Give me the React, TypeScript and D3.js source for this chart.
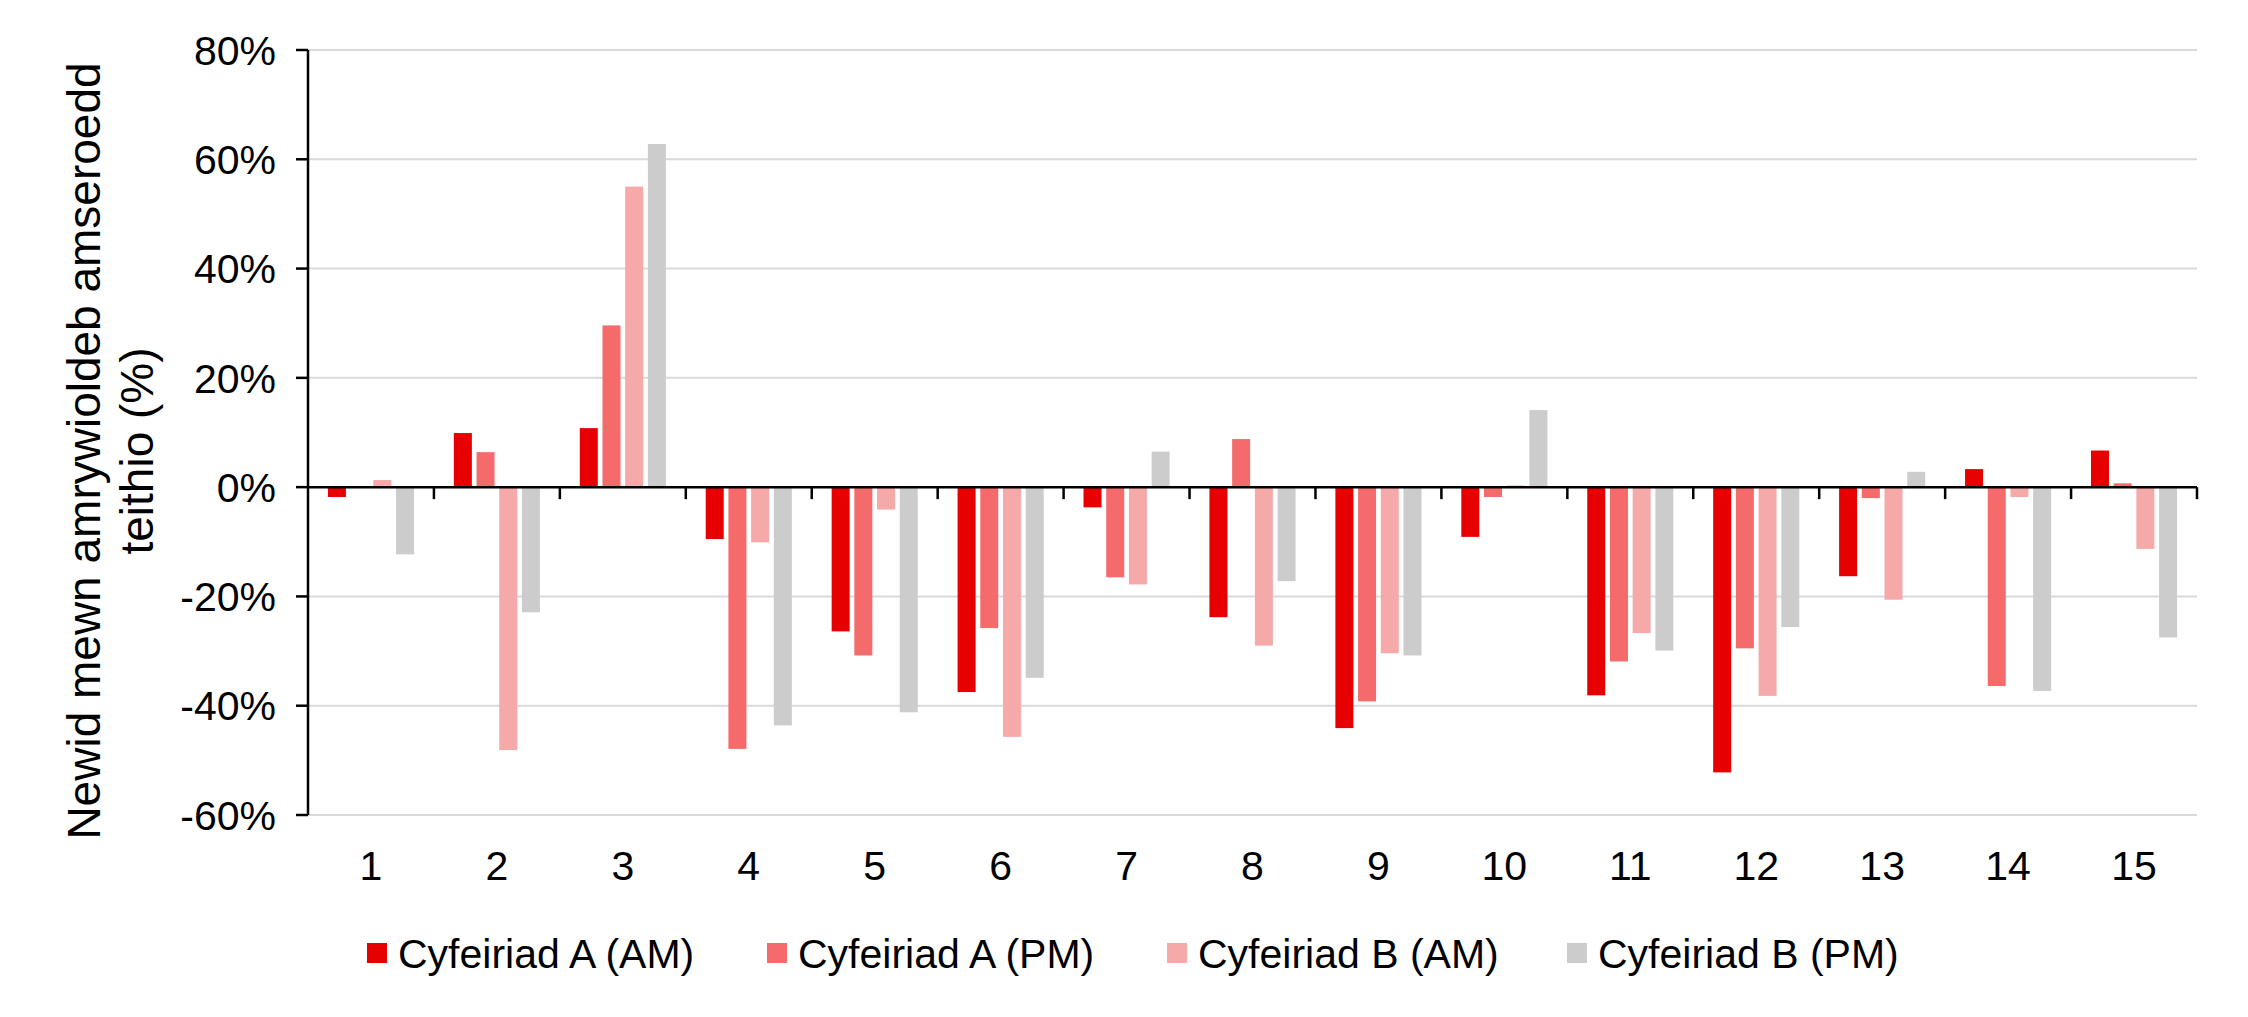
import React, { useEffect, useRef } from 'react';
import * as d3 from 'd3';

const categories = ['1', '2', '3', '4', '5', '6', '7', '8', '9', '10', '11', '12', '13', '14', '15'];
const seriesNames = ['Cyfeiriad A (AM)', 'Cyfeiriad A (PM)', 'Cyfeiriad B (AM)', 'Cyfeiriad B (PM)'];
const seriesColors = ['#e60000', '#f56a6a', '#f5a9a9', '#cccccc'];

const dirA_AM = [-1.8, 9.9, 10.8, -9.5, -26.4, -37.5, -3.7, -23.8, -44.1, -9.1, -38.1, -52.2, -16.3, 3.3, 6.7];
const dirA_PM = [0, 6.4, 29.6, -47.9, -30.8, -25.8, -16.5, 8.8, -39.2, -1.8, -31.9, -29.5, -2.0, -36.4, 0.7];
const dirB_AM = [1.3, -48.1, 55.0, -10.1, -4.1, -45.7, -17.8, -29.0, -30.4, 0.3, -26.7, -38.2, -20.6, -1.8, -11.3];
const dirB_PM = [-12.3, -22.9, 62.8, -43.6, -41.2, -34.9, 6.5, -17.2, -30.8, 14.1, -29.9, -25.6, 2.8, -37.3, -27.5];

const yTicks = [-60, -40, -20, 0, 20, 40, 60, 80];
const yTitleLines = ['Newid mewn amrywioldeb amseroedd', 'teithio (%)'];

const W = 2248;
const H = 1017;
const FONT = '"Liberation Sans", Arial, sans-serif';

const App: React.FC = () => {
  const svgRef = useRef<SVGSVGElement>(null);

  useEffect(() => {
    document.body.style.margin = '0';
    if (!svgRef.current) return;
    const svg = d3.select(svgRef.current);
    svg.selectAll('*').remove();

    const left = 308, right = 2197, top = 50, bottom = 815;
    const series = [dirA_AM, dirA_PM, dirB_AM, dirB_PM];

    const x0 = d3.scaleBand().domain(categories).range([left, right]).paddingInner(0).paddingOuter(0);
    const x1 = d3.scaleBand<number>().domain([0, 1, 2, 3]).range([0, x0.bandwidth()])
      .paddingInner(0.207).paddingOuter(0.877);
    const y = d3.scaleLinear().domain([-60, 80]).range([bottom, top]);

    // gridlines
    svg.append('g').selectAll('line')
      .data(yTicks.filter(t => t !== 0))
      .enter().append('line')
      .attr('x1', left).attr('x2', right)
      .attr('y1', d => y(d)).attr('y2', d => y(d))
      .attr('stroke', '#d9d9d9').attr('stroke-width', 2);

    // bars
    series.forEach((vals, si) => {
      svg.append('g').selectAll('rect')
        .data(vals)
        .enter().append('rect')
        .attr('x', (_, i) => (x0(categories[i]) as number) + (x1(si) as number))
        .attr('width', x1.bandwidth())
        .attr('y', d => y(Math.max(0, d)))
        .attr('height', d => Math.abs(y(d) - y(0)))
        .attr('fill', seriesColors[si]);
    });

    // zero axis with category boundary ticks
    svg.append('line')
      .attr('x1', left).attr('x2', right)
      .attr('y1', y(0)).attr('y2', y(0))
      .attr('stroke', '#000').attr('stroke-width', 2.5);

    const bounds = categories.slice(1).map(c => x0(c) as number).concat([right]);
    svg.append('g').selectAll('line')
      .data(bounds)
      .enter().append('line')
      .attr('x1', d => d).attr('x2', d => d)
      .attr('y1', y(0)).attr('y2', y(0) + 12)
      .attr('stroke', '#000').attr('stroke-width', 2.5);

    // y axis
    svg.append('line')
      .attr('x1', left).attr('x2', left)
      .attr('y1', top).attr('y2', bottom)
      .attr('stroke', '#000').attr('stroke-width', 2.5);

    const yAxisG = svg.append('g');
    yAxisG.selectAll('line')
      .data(yTicks)
      .enter().append('line')
      .attr('x1', left - 12).attr('x2', left)
      .attr('y1', d => y(d)).attr('y2', d => y(d))
      .attr('stroke', '#000').attr('stroke-width', 2.5);
    yAxisG.selectAll('text')
      .data(yTicks)
      .enter().append('text')
      .attr('x', left - 32)
      .attr('y', d => y(d))
      .attr('dy', '0.36em')
      .attr('text-anchor', 'end')
      .attr('font-family', FONT)
      .attr('font-size', 41)
      .attr('fill', '#000')
      .text(d => `${d}%`);

    // category labels
    svg.append('g').selectAll('text')
      .data(categories)
      .enter().append('text')
      .attr('x', d => (x0(d) as number) + x0.bandwidth() / 2)
      .attr('y', 880)
      .attr('text-anchor', 'middle')
      .attr('font-family', FONT)
      .attr('font-size', 41)
      .attr('fill', '#000')
      .text(d => d);

    // y title
    const title = svg.append('text')
      .attr('transform', 'translate(0,451) rotate(-90)')
      .attr('text-anchor', 'middle')
      .attr('font-family', FONT)
      .attr('font-size', 46)
      .attr('fill', '#000');
    yTitleLines.forEach((line, i) => {
      title.append('tspan').attr('x', 0).attr('y', 100 + i * 53).text(line);
    });

    // legend
    const legend = svg.append('g');
    seriesNames.forEach((name, i) => {
      const lx = 367 + i * 400;
      legend.append('rect')
        .attr('x', lx).attr('y', 943)
        .attr('width', 20).attr('height', 20)
        .attr('fill', seriesColors[i]);
      legend.append('text')
        .attr('x', lx + 31).attr('y', 968)
        .attr('font-family', FONT)
        .attr('font-size', 41)
        .attr('fill', '#000')
        .text(name);
    });
  }, []);

  return (
    <div style={{ width: W, height: H, background: '#fff' }}>
      <svg ref={svgRef} width={W} height={H} style={{ display: 'block' }} />
    </div>
  );
};

export default App;
